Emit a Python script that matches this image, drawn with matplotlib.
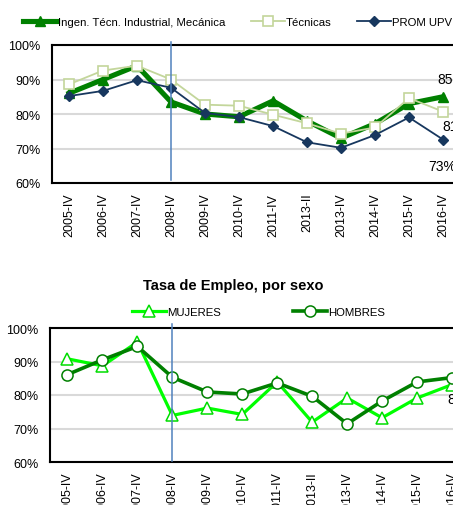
"""
Employment rate charts: by degree and by sex.

"""

import matplotlib
matplotlib.use("Agg")
import matplotlib.pyplot as plt

periods = ["2005-IV", "2006-IV", "2007-IV", "2008-IV", "2009-IV", "2010-IV",
           "2011-IV", "2013-II", "2013-IV", "2014-IV", "2015-IV", "2016-IV"]

ingen = [86, 90, 94, 83.5, 80, 79.2, 83.8, 78, 73, 77.2, 83, 85]
tecnicas = [88.6, 92.6, 94, 90, 82.7, 82.4, 79.8, 77.3, 74.3, 76.1, 84.6, 80.7]
prom_upv = [85.2, 86.7, 89.8, 87.6, 80.3, 79.1, 76.5, 71.8, 70.2, 73.9, 79, 72.6]

mujeres = [90.8, 88.7, 95.8, 73.9, 76.1, 74.2, 83.9, 71.9, 79.1, 73.2, 79.1, 83.1]
hombres = [86.1, 90.5, 94.5, 85.3, 80.9, 80.3, 83.6, 79.6, 71.4, 78.2, 83.9, 85.2]

plt.rcParams['font.family'] = ['Liberation Sans', 'DejaVu Sans']

W, H = 453, 506


def setup(ax, pad_y, pad_x):
    ax.set_xlim(-0.5, len(periods) - 0.5)
    ax.set_ylim(60, 100)
    ax.set_yticks([60, 70, 80, 90, 100])
    ax.set_yticklabels([f"{v}%" for v in [60, 70, 80, 90, 100]])
    ax.set_xticks(range(len(periods)))
    ax.set_xticklabels(periods, rotation=90, va="top")
    ax.tick_params(axis="y", length=0, pad=pad_y, labelsize=9)
    ax.tick_params(axis="x", length=0, pad=pad_x, labelsize=9)
    ax.grid(axis="y", color="#d9d9d9", lw=1.5)
    ax.set_axisbelow(True)
    for s in ax.spines.values():
        s.set_linewidth(1.5)
        s.set_color("black")


fig = plt.figure(figsize=(W / 100, H / 100), dpi=100)

# top chart
ax1 = fig.add_axes([52 / W, 1 - 184 / H, (460 - 52) / W, 138 / H])
setup(ax1, 8.5, 7)
x = range(len(periods))
ax1.plot(x, ingen, color="#008000", lw=3.7, marker="^", ms=6.5,
         label="Ingen. Técn. Industrial, Mecánica", zorder=3)
ax1.plot(x, tecnicas, color="#c3d69b", lw=1.3, marker="s", ms=7.5,
         mfc="white", mec="#c3d69b", mew=1.2, label="Técnicas", zorder=4)
ax1.plot(x, prom_upv, color="#17375e", lw=1.3, marker="D", ms=5,
         label="PROM UPV", zorder=5)
ax1.axvline(3, ymin=0.022, ymax=1.022, color="#4f81bd", lw=1.1,
            clip_on=False, zorder=6)
ax1.legend(loc="center left", bbox_to_anchor=(23 / W, 1 - 23 / H),
           bbox_transform=fig.transFigure, ncol=3, frameon=False,
           fontsize=8.2, borderpad=0, borderaxespad=0, handlelength=3.0,
           handletextpad=0.1, columnspacing=2.2)

last = len(periods) - 1
ax1.annotate(f"{ingen[-1]:.0f}%", (last, ingen[-1]), xytext=(-6, 18),
             textcoords="offset pixels", ha="left", va="center",
             fontsize=10, annotation_clip=False)
ax1.annotate(f"{tecnicas[-1]:.0f}%", (last, tecnicas[-1]), xytext=(-1, -14),
             textcoords="offset pixels", ha="left", va="center",
             fontsize=10, annotation_clip=False)
ax1.annotate(f"{prom_upv[-1]:.0f}%", (last, prom_upv[-1]), xytext=(-15, -26),
             textcoords="offset pixels", ha="left", va="center",
             fontsize=10, annotation_clip=False)

# bottom chart
ax2 = fig.add_axes([50 / W, 1 - 463 / H, (469.5 - 50) / W, 134 / H])
setup(ax2, 8.5, 6.5)
ax2.plot(x, mujeres, color="#00ff00", lw=2.3, marker="^", ms=8,
         mfc="white", mec="#00dd00", mew=1.1, label="MUJERES", zorder=3)
ax2.plot(x, hombres, color="#008000", lw=2.6, marker="o", ms=8,
         mfc="white", mec="#008000", mew=1.1, label="HOMBRES", zorder=4)
ax2.axvline(3, ymin=0.007, ymax=1.03, color="#4f81bd", lw=1.1,
            clip_on=False, zorder=6)
ax2.legend(loc="center left", bbox_to_anchor=(132 / W, 1 - 313 / H),
           bbox_transform=fig.transFigure, ncol=2, frameon=False,
           fontsize=8.2, borderpad=0, borderaxespad=0, handlelength=3.0,
           handletextpad=0.1, columnspacing=6.3)
ax2.annotate(f"{mujeres[-1]:.0f}%", (last, mujeres[-1]), xytext=(-5, -14),
             textcoords="offset pixels", ha="left", va="center",
             fontsize=10, annotation_clip=False)
fig.text(233 / W, 1 - 286 / H, "Tasa de Empleo, por sexo", ha="center",
         va="center", fontsize=10.5, fontweight="bold")

fig.savefig("out.png", dpi=100)
